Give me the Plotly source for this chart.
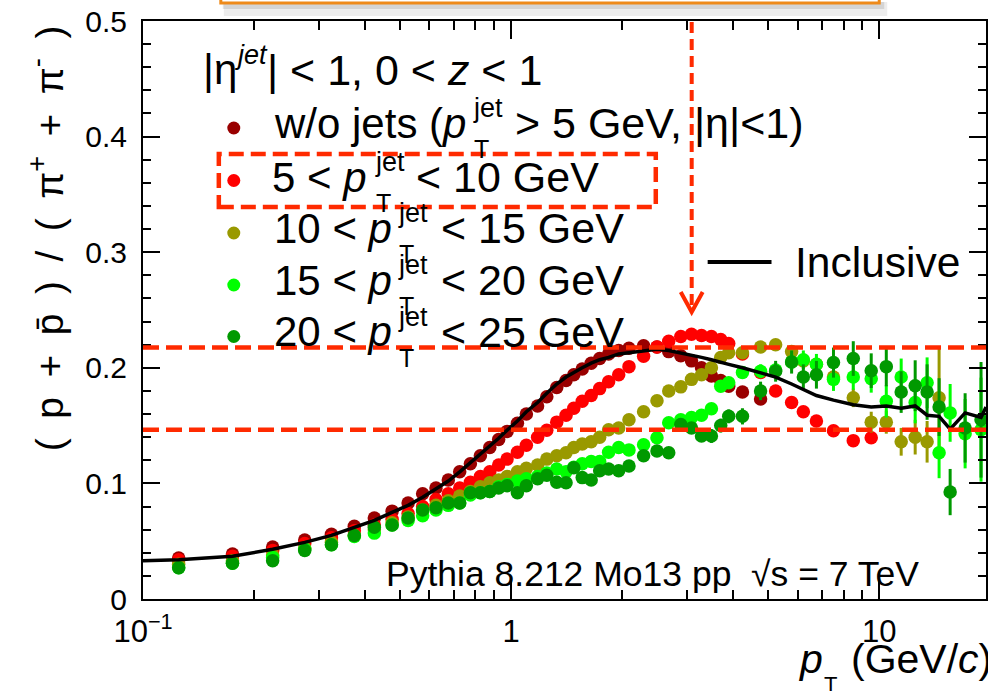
import plotly.graph_objects as go

# ---------------- data ----------------
PT = [0.125, 0.175, 0.225, 0.275, 0.325, 0.375, 0.425, 0.475, 0.525, 0.575,
      0.625, 0.675, 0.725, 0.775, 0.825, 0.875, 0.925, 0.975, 1.04, 1.10,
      1.18, 1.25, 1.33, 1.41, 1.48, 1.56, 1.65, 1.74, 1.84, 1.96,
      2.09, 2.29, 2.49, 2.68, 2.89, 3.09, 3.29, 3.50, 3.71, 3.90,
      4.25, 4.76, 5.23, 5.78, 6.22, 6.75, 7.51, 8.50, 9.51, 10.45,
      11.47, 12.52, 13.49, 14.54, 15.58, 17.11, 18.90]

NOJET = [0.0355, 0.039, 0.045, 0.051, 0.056, 0.063, 0.070, 0.076, 0.083, 0.091,
         0.096, 0.103, 0.110, 0.117, 0.124, 0.131, 0.138, 0.145, 0.152, 0.160,
         0.167, 0.175, 0.183, 0.189, 0.194, 0.199, 0.204, 0.208, 0.212, 0.215,
         0.217, 0.219, 0.218, 0.214, 0.2105, 0.206, 0.200, 0.193, 0.189, 0.184,
         0.179, 0.173]

J5_10 = [0.034, 0.037, 0.042, 0.048, 0.053, 0.059, 0.064, 0.069, 0.074, 0.080,
         0.086, 0.091, 0.096, 0.101, 0.106, 0.110, 0.116, 0.121, 0.127, 0.133,
         0.140, 0.146, 0.153, 0.159, 0.165, 0.171, 0.176, 0.182, 0.188, 0.194,
         0.201, 0.210, 0.218, 0.223, 0.227, 0.229, 0.228, 0.227, 0.2245, 0.221,
         0.212, 0.196, 0.180, 0.170, 0.162, 0.154, 0.1455, 0.137, 0.1395]
E5_10 = [0, 0, 0, 0, 0, 0, 0, 0, 0, 0,
         0, 0, 0, 0, 0, 0, 0, 0, 0, 0,
         0, 0, 0, 0, 0, 0, 0, 0, 0, 0,
         0, 0, 0, 0, 0, 0, 0, 0, 0, 0,
         0, 0, 0.002, 0.002, 0.002, 0.003, 0.003, 0.004, 0.005]

J10_15 = [0.030, 0.033, 0.038, 0.044, 0.049, 0.055, 0.060, 0.066, 0.071, 0.077,
          0.081, 0.085, 0.089, 0.093, 0.097, 0.1005, 0.103, 0.106, 0.110, 0.113,
          0.116, 0.121, 0.124, 0.1265, 0.131, 0.134, 0.136, 0.140, 0.1465, 0.148,
          0.155, 0.162, 0.1715, 0.180, 0.1835, 0.190, 0.194, 0.200, 0.209, 0.213,
          0.213, 0.218, 0.220, 0.214, 0.206, 0.203, 0.192, 0.174, 0.153, 0.153,
          0.136, 0.140, 0.136, 0.174]
E10_15 = [0, 0, 0, 0, 0, 0, 0, 0, 0, 0,
          0, 0, 0, 0, 0, 0, 0, 0, 0, 0,
          0, 0, 0, 0, 0, 0, 0, 0, 0, 0,
          0, 0, 0, 0, 0, 0, 0, 0, 0, 0,
          0.003, 0.003, 0.004, 0.004, 0.005, 0.005, 0.006, 0.008, 0.009, 0.010,
          0.012, 0.015, 0.018, 0.043]

J15_20 = [0.027, 0.031, 0.036, 0.043, 0.047, 0.054, 0.057, 0.064, 0.068, 0.072,
          0.077, 0.081, 0.083, 0.090, 0.092, 0.093, 0.097, 0.099, 0.102, 0.104,
          0.106, 0.109, 0.1125, 0.110, 0.114, 0.117, 0.119, 0.119, 0.127, 0.131,
          0.129, 0.1335, 0.1395, 0.1525, 0.155, 0.157, 0.159, 0.1645, 0.184, 0.187,
          0.196, 0.197, 0.198, 0.205, 0.207, 0.203, 0.190, 0.192, 0.1905, 0.171,
          0.192, 0.170, 0.187, 0.1265, 0.161, 0.143, 0.1465]
E15_20 = [0, 0, 0, 0, 0, 0, 0, 0, 0, 0,
          0, 0, 0, 0, 0, 0, 0, 0, 0, 0,
          0, 0, 0, 0, 0, 0, 0, 0, 0, 0,
          0, 0, 0, 0, 0, 0, 0, 0, 0.004, 0.004,
          0.005, 0.006, 0.006, 0.007, 0.008, 0.009, 0.010, 0.011, 0.012, 0.014,
          0.016, 0.018, 0.022, 0.022, 0.025, 0.030, 0.045]

J20_25 = [0.027, 0.031, 0.033, 0.042, 0.047, 0.055, 0.062, 0.064, 0.070, 0.077,
          0.079, 0.083, 0.083, 0.092, 0.092, 0.093, 0.096, 0.098, 0.092, 0.098,
          0.104, 0.107, 0.101, 0.1005, 0.1135, 0.105, 0.103, 0.111, 0.1125, 0.111,
          0.115, 0.124, 0.128, 0.1265, 0.151, 0.148, 0.141, 0.141, 0.150, 0.158,
          0.158, 0.180, 0.197, 0.205, 0.192, 0.194, 0.2045, 0.208, 0.1975, 0.201,
          0.179, 0.1845, 0.179, 0.166, 0.0925, 0.148, 0.155]
E20_25 = [0, 0, 0, 0, 0, 0, 0, 0, 0, 0,
          0, 0, 0, 0, 0, 0, 0, 0, 0, 0,
          0, 0, 0, 0, 0, 0, 0, 0, 0, 0,
          0, 0, 0, 0, 0.003, 0.004, 0.005, 0.006, 0.006, 0.006,
          0.007, 0.008, 0.009, 0.010, 0.011, 0.012, 0.013, 0.015, 0.015, 0.017,
          0.018, 0.022, 0.024, 0.025, 0.020, 0.030, 0.050]

INCL_PT = [0.1, 0.125, 0.175, 0.225, 0.275, 0.325, 0.375, 0.425, 0.475, 0.525,
           0.575, 0.625, 0.675, 0.725, 0.775, 0.825, 0.875, 0.925, 0.975, 1.04,
           1.10, 1.18, 1.25, 1.33, 1.41, 1.48, 1.56, 1.65, 1.74, 1.84,
           1.96, 2.09, 2.29, 2.49, 2.68, 2.89, 3.09, 3.29, 3.50, 3.71,
           3.90, 4.25, 4.76, 5.23, 5.78, 6.22, 6.75, 7.51, 8.50, 9.51,
           10.45, 11.47, 12.52, 13.49, 14.54, 15.58, 17.11, 18.90, 19.5]
INCL = [0.033, 0.034, 0.037, 0.043, 0.049, 0.055, 0.062, 0.068, 0.075, 0.081,
        0.088, 0.095, 0.102, 0.110, 0.118, 0.125, 0.132, 0.139, 0.146, 0.154,
        0.162, 0.170, 0.178, 0.186, 0.192, 0.196, 0.200, 0.204, 0.207, 0.209,
        0.212, 0.213, 0.2145, 0.216, 0.215, 0.213, 0.211, 0.209, 0.207, 0.2045,
        0.203, 0.200, 0.196, 0.192, 0.186, 0.181, 0.176, 0.172, 0.168, 0.166,
        0.167, 0.165, 0.167, 0.159, 0.158, 0.147, 0.161, 0.157, 0.166]

HLINES = [0.2175, 0.1465]
X_TICKS = [0.1, 1, 10]
X_TICKTEXT = ["10<sup>\u22121</sup>", "1", "10"]
X_MINOR = [0.2, 0.3, 0.4, 0.5, 0.6, 0.7, 0.8, 0.9, 2, 3, 4, 5, 6, 7, 8, 9]
Y_TICKS = [0, 0.1, 0.2, 0.3, 0.4, 0.5]
Y_TICKTEXT = ["0", "0.1", "0.2", "0.3", "0.4", "0.5"]

# ---------------- styling ----------------
FONT = "Liberation Sans, Arial, Helvetica, sans-serif"
C_DARKRED = "#990000"
C_RED = "#ff0000"
C_OLIVE = "#999900"
C_LIME = "#00ff00"
C_GREEN = "#009900"
C_DASH = "#ff2a00"

W, H = 988, 691
L, R, T, B = 143, 0, 21, 92
PW, PH = W - L - R, H - T - B


def P(px):
    return (px - L) / PW


def Q(py):
    return (H - B - py) / PH


fig = go.Figure()

series = [
    (NOJET, None, C_DARKRED),
    (J5_10, E5_10, C_RED),
    (J10_15, E10_15, C_OLIVE),
    (J15_20, E15_20, C_LIME),
    (J20_25, E20_25, C_GREEN),
]
for vals, errs, col in series:
    tr = dict(x=PT[:len(vals)], y=vals, mode="markers",
              marker=dict(size=13.5, color=col, line=dict(width=0)),
              showlegend=False, hoverinfo="skip")
    if errs is not None:
        tr["error_y"] = dict(type="data", array=errs, visible=True,
                             color=col, thickness=3, width=0)
    fig.add_trace(go.Scatter(**tr))

fig.add_trace(go.Scatter(x=INCL_PT, y=INCL, mode="lines",
                         line=dict(color="black", width=3.5),
                         showlegend=False, hoverinfo="skip"))

shapes = []
# horizontal dashed reference lines
for v in HLINES:
    shapes.append(dict(type="line", xref="paper", yref="y", x0=0, x1=1,
                       y0=v, y1=v, line=dict(color=C_DASH, width=4.5, dash="16px,7px")))
# vertical dashed arrow
shapes.append(dict(type="line", xref="paper", yref="paper", x0=P(693), x1=P(693),
                   y0=Q(22), y1=Q(308), line=dict(color=C_DASH, width=4, dash="11px,6px")))
shapes.append(dict(type="path", xref="paper", yref="paper",
                   path=f"M {P(682)} {Q(292)} L {P(693)} {Q(312)} L {P(704)} {Q(292)}",
                   line=dict(color=C_DASH, width=4)))
# dashed box around 5-10 GeV entry
shapes.append(dict(type="rect", xref="paper", yref="paper", x0=P(219), x1=P(657),
                   y0=Q(207), y1=Q(154), line=dict(color=C_DASH, width=4.5, dash="15px,7px")))
# top banner (cropped box with shadow)
shapes.append(dict(type="rect", xref="paper", yref="paper", x0=P(224), x1=P(889),
                   y0=Q(16), y1=Q(2), fillcolor="rgba(0,0,0,0.07)", line=dict(width=0), layer="below"))
shapes.append(dict(type="rect", xref="paper", yref="paper", x0=P(223), x1=P(886),
                   y0=Q(9), y1=Q(2), fillcolor="rgba(0,0,0,0.10)", line=dict(width=0), layer="below"))
shapes.append(dict(type="rect", xref="paper", yref="paper", x0=P(221), x1=P(881),
                   y0=Q(3), y1=Q(-40), fillcolor="white", line=dict(color="#ee8a1a", width=3)))
# legend markers
leg_y = [128, 180.5, 233, 285, 336.5]
leg_c = [C_DARKRED, C_RED, C_OLIVE, C_LIME, C_GREEN]
for yy, cc in zip(leg_y, leg_c):
    shapes.append(dict(type="circle", xref="paper", yref="paper",
                       xsizemode="pixel", ysizemode="pixel",
                       xanchor=P(234), yanchor=Q(yy), x0=-6.5, x1=6.5, y0=-6.5, y1=6.5,
                       fillcolor=cc, line=dict(width=0)))
# inclusive legend line
shapes.append(dict(type="line", xref="paper", yref="paper", x0=P(709), x1=P(773),
                   y0=Q(262), y1=Q(262), line=dict(color="black", width=4)))

annotations = []


def ann(text, px, py, size, xanchor="left", angle=0):
    annotations.append(dict(text=text, xref="paper", yref="paper", x=P(px), y=Q(py),
                            xanchor=xanchor, yanchor="middle", showarrow=False,
                            textangle=angle, borderpad=0,
                            font=dict(family=FONT, size=size, color="black")))


# header
ann("|\u03b7", 202, 70, 42)
ann("<i>jet</i>", 233, 55, 27)
ann("| < 1, 0 < <i>z</i> < 1", 266, 70, 43)
# legend rows: (baseline, left x, left text, x of jet/T, right x, right text)
rows = [
    (138, 273, "w/o jets (<i>p</i>", 473, 515, "> 5 GeV, |\u03b7|<1)"),
    (192, 271, "5 < <i>p</i>", 375, 416, "< 10 GeV"),
    (243, 273, "10 < <i>p</i>", 398, 441, "< 15 GeV"),
    (295, 273, "15 < <i>p</i>", 398, 441, "< 20 GeV"),
    (347, 273, "20 < <i>p</i>", 398, 441, "< 25 GeV"),
]
for bl, xl, tl, xj, xr, tr in rows:
    ann(tl, xl, bl - 15, 42)
    ann("jet", xj, bl - 30, 27)
    ann("T", xj + 1, bl + 11, 25)
    ann(tr, xr, bl - 15, 43)

ann("Inclusive", 796, 262, 42.5)
ann("Pythia 8.212 Mo13 pp  \u221as = 7 TeV", 386, 574, 35.5)
ann("<i>p</i>", 799, 659, 41)
ann("T", 825, 684, 22)
ann("(GeV/<i>c</i>)", 852, 659, 41)
SP = "\u2002"
ytitle = SP.join(["(", "p", "+", "p\u0304", ")", "/", "(", "\u03c0<sup>+</sup>", "+", "\u03c0<sup>-</sup>", ")"])
ann(ytitle, 45, 238, 39, xanchor="center", angle=-90)

axis_common = dict(showline=True, linecolor="black", linewidth=2, mirror="ticks",
                   ticks="inside", tickcolor="black", tickwidth=1.5,
                   showgrid=False, zeroline=False)

fig.update_layout(
    width=W, height=H, autosize=False,
    margin=dict(l=L, r=R, t=T, b=B, pad=0),
    paper_bgcolor="white", plot_bgcolor="white",
    font=dict(family=FONT, color="black"),
    showlegend=False,
    shapes=shapes, annotations=annotations,
    xaxis=dict(type="log", range=[-1, -1 + PW / 369.0],
               tickmode="array", tickvals=X_TICKS, ticktext=X_TICKTEXT,
               ticklen=18, tickfont=dict(size=31, family=FONT),
               ticklabelstandoff=4,
               minor=dict(tickmode="array", tickvals=X_MINOR, ticks="inside",
                          ticklen=9, tickcolor="black", tickwidth=1.5),
               **axis_common),
    yaxis=dict(range=[0, 0.5], tickmode="array", tickvals=Y_TICKS, ticktext=Y_TICKTEXT,
               ticklen=17, tickfont=dict(size=30, family=FONT),
               ticklabelstandoff=8,
               minor=dict(dtick=0.02, ticks="inside", ticklen=8,
                          tickcolor="black", tickwidth=1.5),
               **axis_common),
)

fig.write_html("out.html")
